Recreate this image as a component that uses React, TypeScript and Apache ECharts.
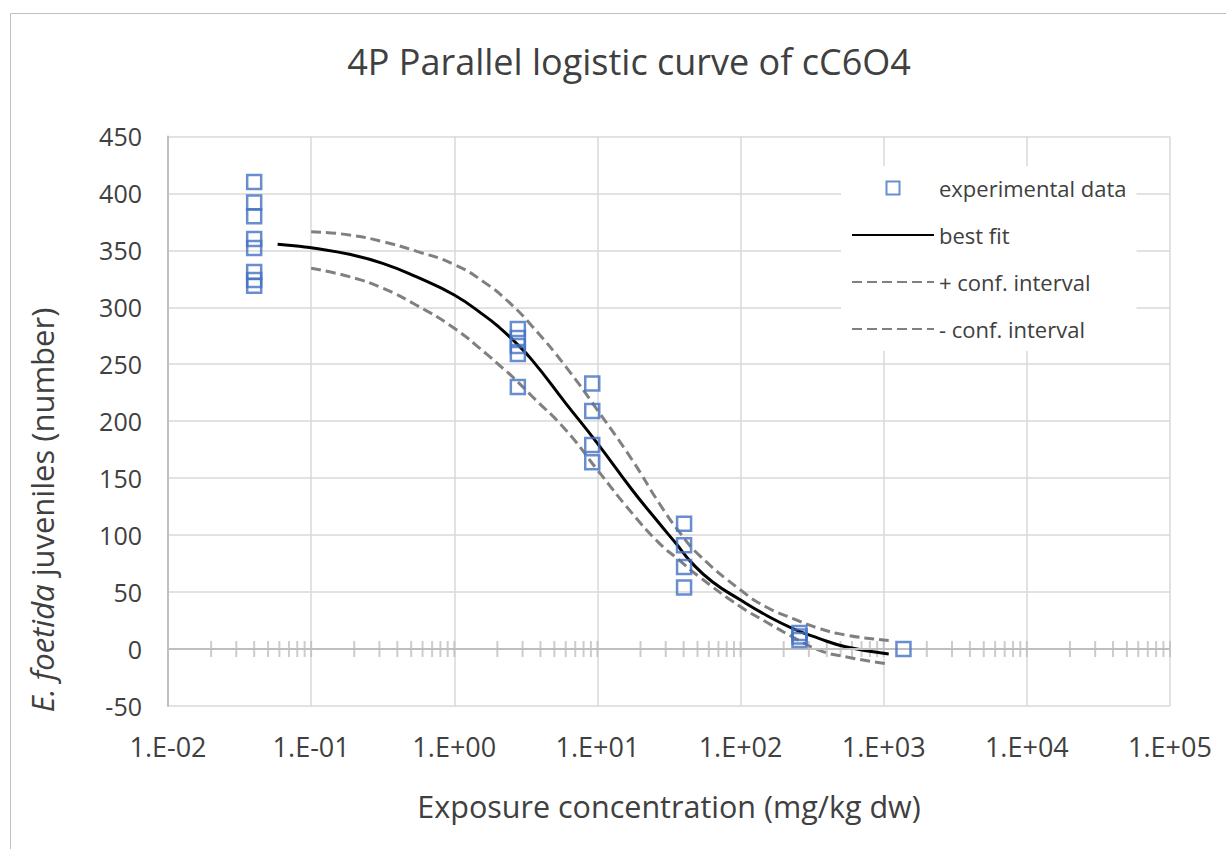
import React, { useEffect, useRef } from "react";
import * as echarts from "echarts";

// ---- data ----
const expX = [0.04, 2.78, 9.2, 40.3, 258, 1374];
const expY: number[][] = [
  [410, 392, 380, 360, 352, 331, 324, 319],
  [281, 273, 266, 259, 230],
  [233, 209, 179, 164],
  [110, 91, 72, 54],
  [14, 11, 8],
  [0],
];

const fitX = [0.0583, 0.0828, 0.1, 0.185, 0.316, 0.541, 1.0, 1.66, 2.06, 2.55, 3.52, 6.01, 10, 17.5, 27, 35.3, 46, 63.5, 100, 150, 230, 352, 541, 1084];
const fitY = [355.3, 353.6, 352.2, 346.5, 338.6, 326.9, 310.8, 291.8, 282.4, 271.7, 253.2, 215.7, 180.6, 139.6, 110.4, 92.8, 75.2, 59.1, 43, 29.9, 18.2, 9.4, 2, -4.4];

const upX = [0.1, 0.185, 0.316, 0.541, 1.0, 1.66, 2.43, 3.52, 6.01, 10, 17.5, 27, 37.2, 51.3, 100, 150, 230, 352, 541, 1000, 1084];
const upY = [366.4, 363.5, 357.6, 349.3, 337.6, 321, 304, 283, 247.9, 209.8, 165.9, 128, 103, 82.5, 51.8, 37.1, 27, 18.2, 12.3, 7.9, 7.5];

const loX = [0.1, 0.185, 0.316, 0.541, 1.0, 1.66, 2.06, 2.55, 3.52, 6.01, 10, 17.5, 27, 37.2, 51.3, 100, 150, 230, 352, 541, 1084];
const loY = [334.2, 326.9, 316.7, 302, 281.6, 259.6, 249.3, 239, 221.5, 192.3, 157.2, 119.1, 93, 78.1, 63.5, 37.1, 24, 10.8, -0.9, -6.8, -13.2];

const tickDecades = [-2, -1, 0, 1, 2, 3, 4];
const minorMultipliers = [2, 3, 4, 5, 6, 7, 8, 9];
const majorTickExps = [-1, 0, 1, 2, 3, 4, 5];

const yTicks = { min: -50, max: 450, interval: 50 };

const FONT = "'Open Sans', 'Noto Sans', sans-serif";
const TXT = "#404040";

function fmtX(v: number) {
  const e = Math.round(Math.log10(v));
  return "1.E" + (e < 0 ? "-" : "+") + String(Math.abs(e)).padStart(2, "0");
}

export default function App() {
  const ref = useRef<HTMLDivElement>(null);
  useEffect(() => {
    if (!ref.current) return;
    const chart = echarts.init(ref.current, undefined, { renderer: "svg" });

    const scatterData: number[][] = [];
    expX.forEach((x, i) => expY[i].forEach((y) => scatterData.push([x, y])));
    const fitData = fitX.map((x, i) => [x, fitY[i]]);
    const upData = upX.map((x, i) => [x, upY[i]]);
    const loData = loX.map((x, i) => [x, loY[i]]);
    const tickData: number[][] = [];
    tickDecades.forEach((d) =>
      minorMultipliers.forEach((m) => tickData.push([m * Math.pow(10, d), 0]))
    );
    majorTickExps.forEach((e) => tickData.push([Math.pow(10, e), 0]));

    chart.setOption({
      animation: false,
      backgroundColor: "#ffffff",
      title: {
        text: "4P Parallel logistic curve of cC6O4",
        left: 624,
        top: 38,
        textAlign: "center",
        textStyle: { fontFamily: FONT, fontSize: 36, fontWeight: "normal", color: TXT },
      },
      graphic: [
        {
          type: "rect",
          shape: { x: 10.5, y: 13.5, width: 1300, height: 900 },
          style: { fill: "none", stroke: "#bfbfbf", lineWidth: 1 },
          silent: true,
        },
        {
          type: "text",
          x: 42,
          y: 510,
          rotation: Math.PI / 2,
          silent: true,
          style: {
            text: "{i|E. foetida}{n| juveniles (number)}",
            align: "center",
            verticalAlign: "middle",
            fontFamily: FONT,
            fontSize: 31,
            fill: TXT,
            rich: {
              i: { fontFamily: FONT, fontSize: 31, fontStyle: "italic", fill: TXT },
              n: { fontFamily: FONT, fontSize: 31, fill: TXT },
            },
          },
        },
      ],
      grid: { left: 168, right: 56, top: 136.4, bottom: 143, containLabel: false },
      legend: {
        left: 841,
        top: 166,
        orient: "vertical",
        backgroundColor: "#ffffff",
        padding: [10, 10, 10, 10],
        itemWidth: 82,
        itemHeight: 14,
        itemGap: 23,
        symbolKeepAspect: true,
        textStyle: { fontFamily: FONT, fontSize: 22, color: TXT, lineHeight: 24 },
        data: [
          { name: "experimental data", icon: "path://M0,0 M82,14 M34.5,0.5 h13 v13 h-13 Z" },
          { name: "best fit", itemStyle: { opacity: 0 } },
          { name: "+ conf. interval", itemStyle: { opacity: 0 } },
          { name: "- conf. interval", itemStyle: { opacity: 0 } },
        ],
      },
      xAxis: {
        type: "log",
        logBase: 10,
        min: 0.01,
        max: 100000,
        splitNumber: 7,
        position: "bottom",
        axisLine: { show: false, onZero: false },
        axisTick: { show: false },
        minorTick: { show: false },
        splitLine: { show: true, lineStyle: { color: "#d9d9d9", width: 1.5 } },
        axisLabel: {
          formatter: fmtX,
          fontFamily: FONT,
          fontSize: 27,
          color: TXT,
          margin: 27,
        },
        name: "Exposure concentration (mg/kg dw)",
        nameLocation: "middle",
        nameGap: 84,
        nameTextStyle: { fontFamily: FONT, fontSize: 30.5, color: TXT },
      },
      yAxis: {
        type: "value",
        min: yTicks.min,
        max: yTicks.max,
        interval: yTicks.interval,
        axisLine: { show: true, lineStyle: { color: "#bfbfbf", width: 2 } },
        axisTick: { show: false },
        splitLine: { show: true, lineStyle: { color: "#d9d9d9", width: 1.5 } },
        axisLabel: { fontFamily: FONT, fontSize: 25, color: TXT, margin: 26 },
      },
      series: [
        {
          name: "ticks",
          type: "scatter",
          data: tickData,
          symbol: "rect",
          symbolSize: [2, 16],
          itemStyle: { color: "#bfbfbf" },
          silent: true,
          z: 1,
          markLine: {
            silent: true,
            symbol: ["none", "none"],
            label: { show: false },
            lineStyle: { color: "#bfbfbf", width: 2, type: "solid" },
            data: [{ yAxis: 0 }],
          },
        },
        {
          name: "+ conf. interval",
          type: "line",
          data: upData,
          smooth: true,
          showSymbol: false,
          symbol: "none",
          lineStyle: { color: "#808080", width: 3, type: [10, 5] },
          itemStyle: { color: "#808080" },
          z: 3,
        },
        {
          name: "- conf. interval",
          type: "line",
          data: loData,
          smooth: true,
          showSymbol: false,
          symbol: "none",
          lineStyle: { color: "#808080", width: 3, type: [10, 5] },
          itemStyle: { color: "#808080" },
          z: 3,
        },
        {
          name: "best fit",
          type: "line",
          data: fitData,
          smooth: true,
          showSymbol: false,
          symbol: "none",
          lineStyle: { color: "#000000", width: 3 },
          itemStyle: { color: "#000000" },
          z: 4,
        },
        {
          name: "experimental data",
          type: "scatter",
          data: scatterData,
          symbol: "rect",
          symbolSize: 14,
          itemStyle: { color: "rgba(255,255,255,0)", borderColor: "#4472c4", borderWidth: 2.5 },
          z: 5,
        },
      ],
    });
    return () => chart.dispose();
  }, []);
  return (
    <div
      ref={ref}
      style={{ position: "fixed", left: 0, top: 0, width: 1226, height: 849 }}
    />
  );
}
